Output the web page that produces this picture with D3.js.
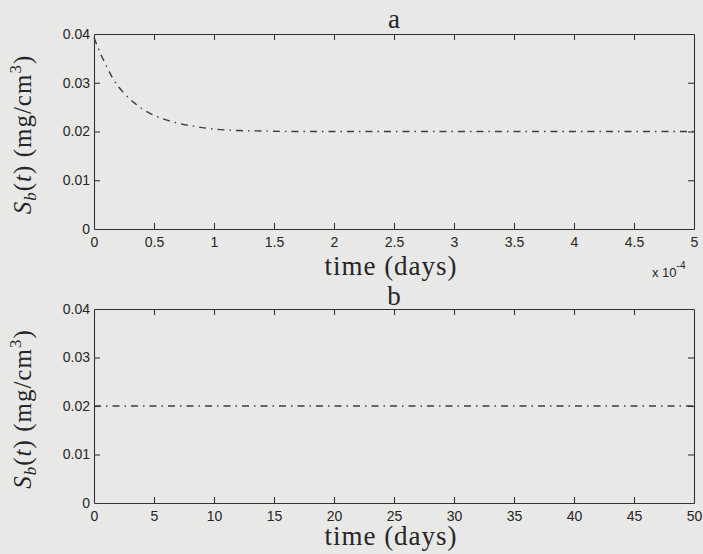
<!DOCTYPE html>
<html>
<head>
<meta charset="utf-8">
<script src="https://cdn.jsdelivr.net/npm/d3@7"></script>
<style>
  html, body { margin: 0; padding: 0; background: #e8e8e6; }
  svg { display: block; }
  .tick text { font-family: "Liberation Sans", Arial, sans-serif; font-size: 14px; fill: #262626; }
  .tick line, .domain { stroke: #333; stroke-width: 1.1; }
  .serif { font-family: "Liberation Serif", "Times New Roman", serif; fill: #262626; }
</style>
</head>
<body>
<svg id="chart"></svg>
<script>
// panel a: short time scale (units of 1e-4 days)
const timeA = [0, 0.05, 0.1, 0.15, 0.2, 0.25, 0.3, 0.35, 0.4, 0.5, 0.6, 0.7, 0.8, 0.9, 1.0, 1.2, 1.4, 1.7, 2.0, 3.0, 4.0, 5.0]
const sbA = [0.0393, 0.0362, 0.0336, 0.0312, 0.0293, 0.0279, 0.0266, 0.0256, 0.0247, 0.0233, 0.0224, 0.0217, 0.0212, 0.0208, 0.0205, 0.0202, 0.0201, 0.0200, 0.0200, 0.0200, 0.0200, 0.0200]
const ticksA = [0, 0.5, 1, 1.5, 2, 2.5, 3, 3.5, 4, 4.5, 5]

// panel b: long time scale (days)
const timeB = [0, 50]
const sbB = [0.02, 0.02]
const ticksB = [0, 5, 10, 15, 20, 25, 30, 35, 40, 45, 50]

const yTicks = [0, 0.01, 0.02, 0.03, 0.04]

const W = 703, H = 554
const LEFT = 94, RIGHT = 694
const TICK = 6

const svg = d3.select('#chart').attr('width', W).attr('height', H)
svg.append('rect').attr('width', W).attr('height', H).attr('fill', '#e8e8e6')

function drawPanel ({top, bottom, xDomain, xTicks, xs, ys, title, titleY, labelY, exponent}) {
	const x = d3.scaleLinear().domain(xDomain).range([LEFT, RIGHT])
	const y = d3.scaleLinear().domain([0, 0.04]).range([bottom, top])
	const fmt = d3.format('~g')
	const g = svg.append('g')

	g.append('g')
		.attr('transform', `translate(0, ${bottom})`)
		.call(d3.axisBottom(x).tickValues(xTicks).tickFormat(fmt).tickSize(-TICK).tickSizeOuter(0).tickPadding(8))
	g.append('g')
		.attr('transform', `translate(0, ${top})`)
		.call(d3.axisTop(x).tickValues(xTicks).tickFormat('').tickSize(-TICK).tickSizeOuter(0))
	g.append('g')
		.attr('transform', `translate(${LEFT}, 0)`)
		.call(d3.axisLeft(y).tickValues(yTicks).tickFormat(fmt).tickSize(-TICK).tickSizeOuter(0).tickPadding(4))
	g.append('g')
		.attr('transform', `translate(${RIGHT}, 0)`)
		.call(d3.axisRight(y).tickValues(yTicks).tickFormat('').tickSize(-TICK).tickSizeOuter(0))

	// first and last ticks sit on the box edges, drop them
	g.selectAll('.tick line').filter(d => d === xDomain[0] || d === xDomain[1] || d === 0 || d === 0.04)
		.attr('stroke-opacity', 0)

	const line = d3.line()
		.x((d, i) => x(xs[i]))
		.y(d => y(d))
		.curve(d3.curveMonotoneX)
	g.append('path')
		.datum(ys)
		.attr('fill', 'none')
		.attr('stroke', '#3c3c3c')
		.attr('stroke-width', 1.4)
		.attr('stroke-dasharray', '7,5,1.5,5')
		.attr('d', line)

	g.append('text')
		.attr('class', 'serif')
		.attr('x', (LEFT + RIGHT) / 2)
		.attr('y', titleY)
		.attr('text-anchor', 'middle')
		.style('font-size', '27px')
		.text(title)

	g.append('text')
		.attr('class', 'serif')
		.attr('x', (LEFT + RIGHT) / 2 - 3)
		.attr('y', labelY)
		.attr('text-anchor', 'middle')
		.style('font-size', '27px')
		.style('letter-spacing', '1px')
		.text('time (days)')

	const yl = g.append('text')
		.attr('class', 'serif')
		.attr('transform', `translate(31, ${(top + bottom) / 2 + 3}) rotate(-90)`)
		.attr('text-anchor', 'middle')
		.style('font-size', '25px')
		.style('letter-spacing', '1px')
	yl.append('tspan').style('font-style', 'italic').text('S')
	yl.append('tspan').style('font-style', 'italic').style('font-size', '17px').attr('dy', 5).text('b')
	yl.append('tspan').attr('dy', -5).text('(')
	yl.append('tspan').style('font-style', 'italic').text('t')
	yl.append('tspan').text(') (mg/cm')
	yl.append('tspan').style('font-size', '17px').attr('dy', -10).text('3')
	yl.append('tspan').attr('dy', 10).text(')')

	if (exponent) {
		const ex = g.append('text')
			.attr('x', 652)
			.attr('y', bottom + 48)
			.style('font-family', '"Liberation Sans", Arial, sans-serif')
			.style('font-size', '13px')
			.attr('fill', '#262626')
		ex.append('tspan').text('x 10')
		ex.append('tspan').attr('dy', -8).style('font-size', '10px').text(exponent)
	}
}

drawPanel({top: 34, bottom: 229, xDomain: [0, 5], xTicks: ticksA, xs: timeA, ys: sbA, title: 'a', titleY: 28, labelY: 275, exponent: '-4'})
drawPanel({top: 309, bottom: 503, xDomain: [0, 50], xTicks: ticksB, xs: timeB, ys: sbB, title: 'b', titleY: 305, labelY: 545})
</script>
</body>
</html>
